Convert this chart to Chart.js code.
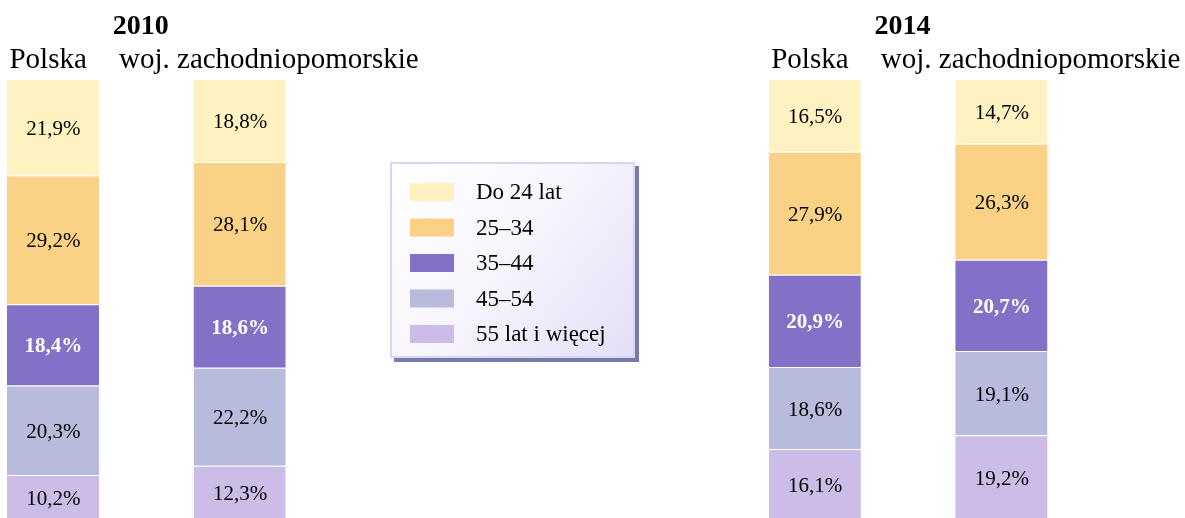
<!DOCTYPE html>
<html>
<head>
<meta charset="utf-8">
<script src="https://cdn.jsdelivr.net/npm/chart.js@4"></script>
<style>
  html, body { margin: 0; padding: 0; background: #fff; overflow: hidden; }
  #wrap { width: 1185px; height: 520px; }
</style>
</head>
<body>
<div id="wrap"><canvas id="myChart" width="1185" height="520"></canvas></div>
<script>
// Data (stacked from the bottom up)
const years = ["2010", "2014"];
const regions = ["Polska", "woj. zachodniopomorskie"];
const ageGroups = ["55 lat i więcej", "45–54", "35–44", "25–34", "Do 24 lat"];
const polska2010 = [10.2, 20.3, 18.4, 29.2, 21.9];
const woj2010 = [12.3, 22.2, 18.6, 28.1, 18.8];
const polska2014 = [16.1, 18.6, 20.9, 27.9, 16.5];
const woj2014 = [19.2, 19.1, 20.7, 26.3, 14.7];

const colors = ["#CCBDE8", "#B8BBDC", "#8570C8", "#FAD285", "#FEF2C2"];
const serif = "'Liberation Serif', 'Times New Roman', serif";

const regionValues = [[polska2010, polska2014], [woj2010, woj2014]];

// one dataset per age group and region, stacked per region
const datasets = [];
ageGroups.forEach((age, i) => {
    regions.forEach((region, r) => {
        datasets.push({
            label: age,
            stack: region,
            data: [regionValues[r][0][i], regionValues[r][1][i]],
            backgroundColor: colors[i],
            borderColor: "rgba(255,255,255,0.55)",
            borderWidth: { top: 1, right: 1 },
            borderSkipped: false,
            clip: false,
            boldLabel: i === 2
        });
    });
});

// values in the middle of each segment
const segmentLabels = {
    id: "segmentLabels",
    afterDatasetsDraw(chart) {
        const ctx = chart.ctx;
        ctx.save();
        ctx.textAlign = "center";
        ctx.textBaseline = "middle";
        chart.data.datasets.forEach((ds, d) => {
            const meta = chart.getDatasetMeta(d);
            meta.data.forEach((bar, i) => {
                const v = ds.data[i];
                const text = v.toFixed(1).replace(".", ",") + "%";
                ctx.font = (ds.boldLabel ? "bold " : "") + "21px " + serif;
                ctx.fillStyle = ds.boldLabel ? "#ffffff" : "#000000";
                ctx.fillText(text, bar.x, (bar.y + bar.base) / 2 + 2);
            });
        });
        ctx.restore();
    }
};

// year titles and region headers above the bars
const headers = {
    id: "headers",
    afterDraw(chart) {
        const ctx = chart.ctx;
        const xScale = chart.scales.x;
        ctx.save();
        ctx.fillStyle = "#000";
        ctx.textBaseline = "alphabetic";
        years.forEach((year, i) => {
            ctx.font = "bold 28px " + serif;
            ctx.textAlign = "center";
            ctx.fillText(year, xScale.getPixelForValue(i) - 6, 34);
        });
        ctx.font = "29px " + serif;
        ctx.textAlign = "left";
        const shift = [44, 121];
        regions.forEach((region, r) => {
            const meta = chart.getDatasetMeta(r);
            meta.data.forEach((bar) => {
                ctx.fillText(region, bar.x - shift[r], 68);
            });
        });
        ctx.restore();
    }
};

// legend box drawn between the two years
const legendBox = {
    id: "legendBox",
    afterDraw(chart) {
        const ctx = chart.ctx;
        const x = 390, y = 162, w = 245, h = 196;
        ctx.save();
        ctx.fillStyle = "#7A79AB";
        ctx.fillRect(x + 4, y + 4, w, h);
        const grad = ctx.createLinearGradient(x, y, x + w, y + h);
        grad.addColorStop(0, "#ffffff");
        grad.addColorStop(0.45, "#F8F6FD");
        grad.addColorStop(1, "#E4DEF6");
        ctx.fillStyle = grad;
        ctx.fillRect(x, y, w, h);
        ctx.strokeStyle = "#D6D6F6";
        ctx.lineWidth = 2;
        ctx.strokeRect(x + 1, y + 1, w - 2, h - 2);

        const items = chart.data.datasets.filter(ds => ds.stack === regions[0]).reverse();
        ctx.font = "23px " + serif;
        ctx.textAlign = "left";
        ctx.textBaseline = "middle";
        items.forEach((ds, i) => {
            const cy = 192 + i * 35.5;
            ctx.fillStyle = ds.backgroundColor;
            ctx.fillRect(410, cy - 9, 44, 18);
            ctx.fillStyle = "#000";
            ctx.fillText(ds.label, 476, cy + 1);
        });
        ctx.restore();
    }
};

const ctx = document.getElementById("myChart").getContext("2d");
new Chart(ctx, {
    type: "bar",
    data: { labels: years, datasets: datasets },
    options: {
        responsive: false,
        animation: false,
        categoryPercentage: 0.4897,
        barPercentage: 0.4987,
        layout: { padding: { top: 79, left: 146.75, right: 276.5, bottom: 0 } },
        plugins: {
            legend: { display: false },
            tooltip: { enabled: false }
        },
        scales: {
            x: { display: false, stacked: true, offset: false },
            y: { display: false, stacked: true, min: 0, max: 100 }
        }
    },
    plugins: [segmentLabels, headers, legendBox]
});
</script>
</body>
</html>
